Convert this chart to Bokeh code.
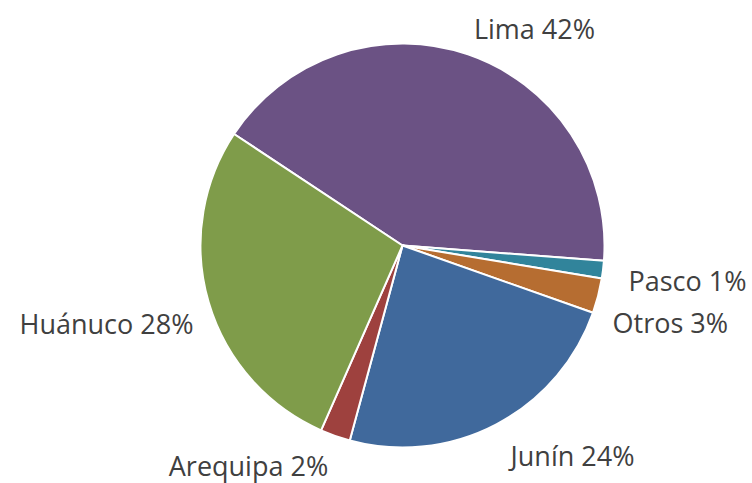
import math
from bokeh.plotting import figure
from bokeh.models import Range1d, ColumnDataSource
from bokeh.core.properties import value
from bokeh.embed import file_html
from bokeh.resources import INLINE

# ---- data ----
regions = ["Lima", "Pasco", "Otros", "Junín", "Arequipa", "Huánuco"]
shares = [41.9, 1.4, 2.8, 23.8, 2.4, 27.7]
labels = ["Lima 42%", "Pasco 1%", "Otros 3%", "Junín 24%", "Arequipa 2%", "Huánuco 28%"]
colors = ["#6B5284", "#31849B", "#B66D31", "#40699C", "#9E413E", "#7F9C4A"]

# ---- layout (page pixel coordinates, y measured upward from bottom of 483px window) ----
W, H = 752, 483
cx, cy = 402, H - 245
R = 202
START_DEG = 146.5  # first slice starts here, slices run clockwise

# label anchors (page px from top-left) and alignment
label_pos = [(534, 28), (628, 280), (612, 322), (572, 455), (248, 465), (193, 323)]
label_align = ["center", "left", "left", "center", "center", "right"]

total = sum(shares)
starts, ends = [], []
a = math.radians(START_DEG)
for s in shares:
    span = 2 * math.pi * s / total
    ends.append(a)
    starts.append(a - span)
    a -= span

src = ColumnDataSource(dict(
    x=[cx] * len(shares), y=[cy] * len(shares),
    start=starts, end=ends, color=colors, region=regions,
))

p = figure(width=W, height=H, output_backend="svg", toolbar_location=None,
           x_range=Range1d(0, W), y_range=Range1d(0, H),
           min_border=0)
p.axis.visible = False
p.grid.visible = False
p.outline_line_color = None
p.background_fill_color = "white"
p.border_fill_color = "white"

p.wedge(x="x", y="y", radius=R, start_angle="start", end_angle="end",
        direction="anticlock", fill_color="color", line_color="white",
        line_width=2, source=src)

lsrc = ColumnDataSource(dict(
    x=[lp[0] for lp in label_pos],
    y=[H - lp[1] for lp in label_pos],
    text=labels, align=label_align,
))
p.text(x="x", y="y", text="text", text_align="align", text_baseline="middle",
       text_font=value("Open Sans"), text_font_size="27px", text_color="#404040",
       source=lsrc)

open("out.html", "w").write(file_html(p, INLINE))
